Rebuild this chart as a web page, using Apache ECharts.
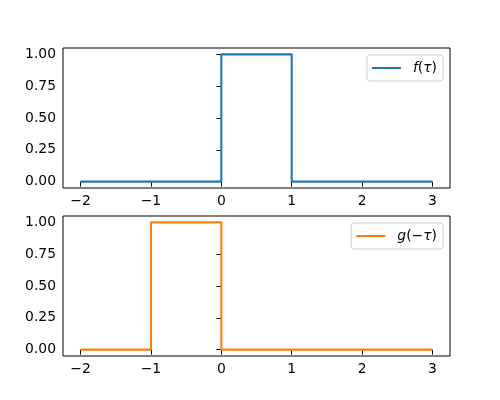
<!DOCTYPE html>
<html>
<head>
<meta charset="utf-8">
<script src="https://cdn.jsdelivr.net/npm/echarts@6/dist/echarts.min.js"></script>
<style>html,body{margin:0;padding:0;background:#fff}#c{width:500px;height:400px}</style>
</head>
<body>
<div id="c"></div>
<script>
// Data
var fX = [-2, 0, 0, 1, 1, 3];
var fY = [0, 0, 1, 1, 0, 0];
var gX = [-2, -1, -1, 0, 0, 3];
var gY = [0, 0, 1, 1, 0, 0];
var xTicks = [-2, -1, 0, 1, 2, 3];
var yTicks = [0, 0.25, 0.5, 0.75, 1];
var names = ['f(τ)', 'g(−τ)'];

function pairs(xs, ys) { return xs.map(function (x, i) { return [x, ys[i]]; }); }
var font = 'DejaVu Sans';
function xAxis(idx) {
  return {
    type: 'value', gridIndex: idx, min: -2.25, max: 3.25,
    axisLine: { show: false }, splitLine: { show: false },
    axisTick: { show: true, customValues: xTicks, length: 4.9, lineStyle: { color: '#000', width: 1 } },
    axisLabel: { show: true, customValues: xTicks, color: '#000', fontFamily: font, fontSize: 13.9, margin: 6,
      formatter: function (v) { return (v < 0 ? '\u2212' : '') + Math.abs(v); } }
  };
}
function yAxis(idx) {
  return {
    type: 'value', gridIndex: idx, min: -0.05, max: 1.05,
    axisLine: { show: false }, splitLine: { show: false },
    axisTick: { show: true, customValues: yTicks, length: 4.9, lineStyle: { color: '#000', width: 1 } },
    axisLabel: { show: true, customValues: yTicks, color: '#000', fontFamily: font, fontSize: 13.9, margin: 7,
      formatter: function (v) { return v.toFixed(2); } }
  };
}
function legend(idx, top, right) {
  return {
    data: [names[idx]], top: top, right: right, orient: 'vertical',
    icon: 'rect', itemWidth: 29, itemHeight: 2,
    backgroundColor: 'rgba(255,255,255,0.8)', borderColor: '#d0d0d0', borderWidth: 1, borderRadius: 3,
    padding: [6, 6, 6, 5],
    textStyle: { fontFamily: font, fontSize: 13.9, color: '#000', padding: [0, 0, 0, 7],
      rich: { i: { fontStyle: 'italic', fontFamily: font, fontSize: 13.9, color: '#000' } } },
    formatter: function (n) {
      return n === names[0] ? '{i|f}({i|τ})' : '{i|g}(−{i|τ})';
    }
  };
}
var chart = echarts.init(document.getElementById('c'), null, { renderer: 'canvas' });
chart.setOption({
  animation: false,
  backgroundColor: '#fff',
  grid: [
    { left: 63, top: 48, width: 387, height: 140, show: true, borderColor: '#000', borderWidth: 1, backgroundColor: 'transparent' },
    { left: 63, top: 216, width: 387, height: 140, show: true, borderColor: '#000', borderWidth: 1, backgroundColor: 'transparent' }
  ],
  xAxis: [xAxis(0), xAxis(1)],
  yAxis: [yAxis(0), yAxis(1)],
  legend: [legend(0, 55, 57), legend(1, 223, 57)],
  series: [
    { name: names[0], type: 'line', xAxisIndex: 0, yAxisIndex: 0, data: pairs(fX, fY), symbol: 'none',
      lineStyle: { color: '#1f77b4', width: 2.08 }, itemStyle: { color: '#1f77b4' } },
    { name: names[1], type: 'line', xAxisIndex: 1, yAxisIndex: 1, data: pairs(gX, gY), symbol: 'none',
      lineStyle: { color: '#ff7f0e', width: 2.08 }, itemStyle: { color: '#ff7f0e' } }
  ]
});
</script>
</body>
</html>
